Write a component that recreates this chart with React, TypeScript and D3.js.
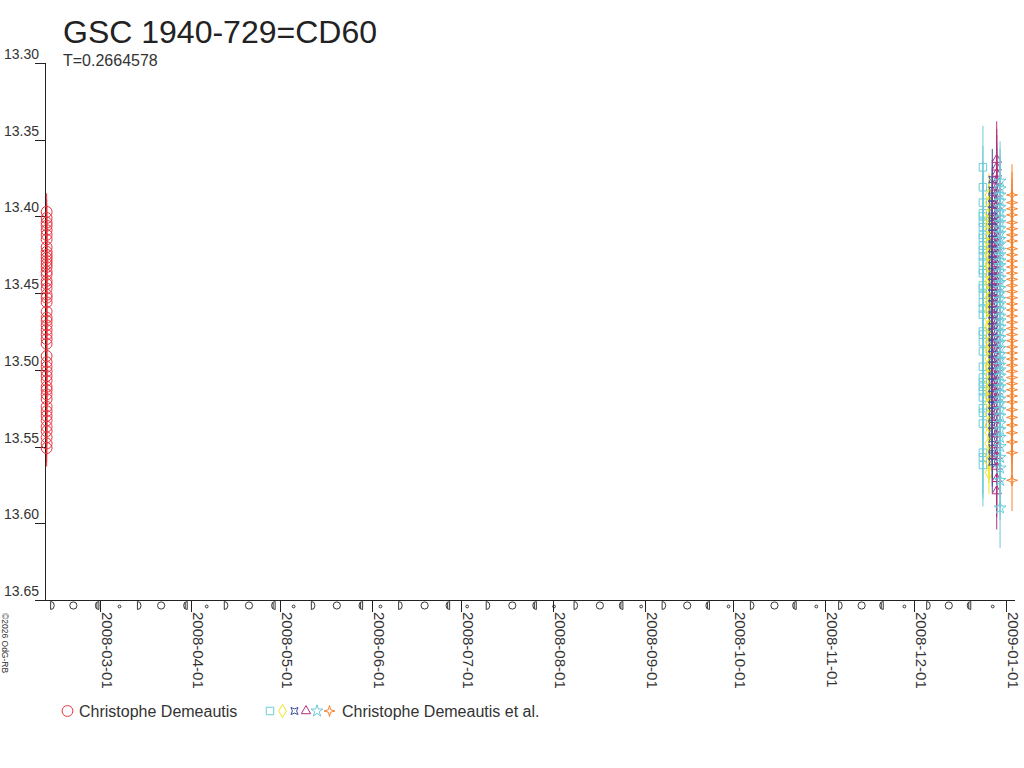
import React from "react";
import * as d3 from "d3";

const TITLE = "GSC 1940-729=CD60";
const SUBTITLE = "T=0.2664578";
const COPYRIGHT = "©2026 OdG-RB";

const Y_TICKS = [13.3, 13.35, 13.4, 13.45, 13.5, 13.55, 13.6, 13.65];
const X_TICKS = [
  "2008-03-01", "2008-04-01", "2008-05-01", "2008-06-01", "2008-07-01", "2008-08-01",
  "2008-09-01", "2008-10-01", "2008-11-01", "2008-12-01", "2009-01-01",
];

const NEW_MOONS = [
  "2008-02-07T03:44Z", "2008-03-07T17:14Z", "2008-04-06T03:55Z", "2008-05-05T12:18Z",
  "2008-06-03T19:23Z", "2008-07-03T02:19Z", "2008-08-01T10:13Z", "2008-08-30T19:58Z",
  "2008-09-29T08:12Z", "2008-10-28T23:14Z", "2008-11-27T16:55Z", "2008-12-27T12:22Z",
];
const FIRST_QUARTERS = [
  "2008-02-14T03:33Z", "2008-03-14T10:45Z", "2008-04-12T18:32Z", "2008-05-12T03:47Z",
  "2008-06-10T15:04Z", "2008-07-10T04:35Z", "2008-08-08T20:20Z", "2008-09-07T14:04Z",
  "2008-10-07T09:04Z", "2008-11-06T04:03Z", "2008-12-05T21:26Z", "2009-01-04T11:56Z",
];
const FULL_MOONS = [
  "2008-02-21T03:30Z", "2008-03-21T18:40Z", "2008-04-20T10:25Z", "2008-05-20T02:11Z",
  "2008-06-18T17:30Z", "2008-07-18T07:59Z", "2008-08-16T21:16Z", "2008-09-15T09:13Z",
  "2008-10-14T20:02Z", "2008-11-13T06:17Z", "2008-12-12T16:37Z",
];
const LAST_QUARTERS = [
  "2008-02-29T02:18Z", "2008-03-29T21:47Z", "2008-04-28T14:12Z", "2008-05-28T02:57Z",
  "2008-06-26T12:10Z", "2008-07-25T18:42Z", "2008-08-23T23:50Z", "2008-09-22T05:04Z",
  "2008-10-21T11:55Z", "2008-11-19T21:31Z", "2008-12-19T10:29Z",
];

const LEGEND_1 = "Christophe Demeautis";
const LEGEND_2 = "Christophe Demeautis et al.";

// Series 1: Christophe Demeautis
const RED_DATE = "2008-02-12T03:00Z";
const RED_ERR = 0.012;
const RED_MAGS = [
  13.397, 13.401, 13.404, 13.406, 13.409, 13.412, 13.415, 13.420, 13.423, 13.425, 13.427,
  13.429, 13.431, 13.433, 13.436, 13.438, 13.442, 13.444, 13.447, 13.451, 13.453, 13.456,
  13.462, 13.466, 13.468, 13.471, 13.474, 13.477, 13.480, 13.483, 13.491, 13.495, 13.498,
  13.501, 13.504, 13.507, 13.511, 13.513, 13.516, 13.519, 13.524, 13.527, 13.530, 13.533,
  13.537, 13.540, 13.544, 13.548, 13.551,
];

// Series 2..: Christophe Demeautis et al.
const SQ_DATE = "2008-12-24T05:00Z";
const SQ_ERR = 0.027;
const SQ_MAGS = [
  13.368, 13.381, 13.391, 13.398, 13.400, 13.404, 13.407, 13.412, 13.414, 13.419, 13.422,
  13.426, 13.430, 13.435, 13.437, 13.445, 13.447, 13.451, 13.456, 13.460, 13.464, 13.475,
  13.477, 13.482, 13.488, 13.498, 13.505, 13.508, 13.511, 13.514, 13.518, 13.525, 13.528,
  13.535, 13.554, 13.557, 13.562,
];

const DIA_DATE = "2008-12-26T06:00Z";
const DIA_ERR = 0.014;
const DIA_MAGS = [
  13.386, 13.391, 13.398, 13.402, 13.405, 13.408, 13.413, 13.417, 13.420, 13.424, 13.426,
  13.431, 13.433, 13.438, 13.442, 13.444, 13.449, 13.453, 13.456, 13.460, 13.462, 13.467,
  13.471, 13.473, 13.478, 13.482, 13.486, 13.488, 13.493, 13.497, 13.499, 13.503, 13.508,
  13.512, 13.514, 13.518, 13.522, 13.529, 13.536, 13.541, 13.548, 13.555, 13.560, 13.567,
];

const BLUE_DATE = "2008-12-27T09:00Z";
const BLUE_ERR = 0.02;
const BLUE_MAGS = [
  13.376, 13.383, 13.388, 13.392, 13.396, 13.401, 13.403, 13.407, 13.411, 13.415, 13.418,
  13.421, 13.425, 13.428, 13.432, 13.436, 13.439, 13.443, 13.446, 13.450, 13.453, 13.457,
  13.461, 13.464, 13.468, 13.472, 13.475, 13.479, 13.482, 13.486, 13.490, 13.493, 13.497,
  13.501, 13.504, 13.508, 13.512, 13.516, 13.519, 13.523, 13.527, 13.531, 13.536, 13.540,
  13.545, 13.551, 13.556, 13.560,
];

const TRI_DATE = "2008-12-28T21:00Z";
const TRI_ERR = 0.025;
const TRI_MAGS = [
  13.363, 13.368, 13.372, 13.377, 13.381, 13.385, 13.390, 13.393, 13.398, 13.402, 13.405,
  13.409, 13.413, 13.417, 13.420, 13.424, 13.428, 13.431, 13.435, 13.439, 13.442, 13.446,
  13.450, 13.454, 13.457, 13.461, 13.465, 13.469, 13.472, 13.476, 13.480, 13.484, 13.487,
  13.491, 13.495, 13.499, 13.503, 13.507, 13.511, 13.514, 13.518, 13.522, 13.527, 13.531,
  13.536, 13.542, 13.549, 13.556, 13.563, 13.571, 13.579,
];

const STAR_DATE = "2008-12-30T00:00Z";
const STAR_ERR = 0.026;
const STAR_MAGS = [
  13.377, 13.382, 13.386, 13.390, 13.394, 13.397, 13.401, 13.404, 13.408, 13.411, 13.415,
  13.418, 13.422, 13.425, 13.429, 13.432, 13.436, 13.440, 13.443, 13.447, 13.450, 13.454,
  13.457, 13.461, 13.465, 13.468, 13.472, 13.475, 13.479, 13.482, 13.486, 13.490, 13.493,
  13.497, 13.500, 13.504, 13.508, 13.511, 13.515, 13.519, 13.522, 13.526, 13.530, 13.535,
  13.539, 13.544, 13.550, 13.557, 13.564, 13.572, 13.590,
];

const ORA_DATE = "2009-01-03T01:00Z";
const ORA_ERR = 0.02;
const ORA_MAGS = [
  13.386, 13.391, 13.395, 13.399, 13.404, 13.408, 13.412, 13.416, 13.421, 13.425, 13.429,
  13.433, 13.437, 13.441, 13.445, 13.449, 13.453, 13.457, 13.461, 13.465, 13.469, 13.473,
  13.477, 13.481, 13.485, 13.489, 13.493, 13.497, 13.501, 13.505, 13.509, 13.513, 13.517,
  13.521, 13.526, 13.531, 13.536, 13.541, 13.547, 13.554, 13.572,
];

const X_DOMAIN = ["2008-02-11T13:40Z", "2009-01-04T01:00Z"];
const Y_DOMAIN = [13.3, 13.65];

const FONT = "'Liberation Sans', Arial, Helvetica, sans-serif";

function star4(r: number, k: number, rot = 0): string {
  const pts: [number, number][] = [];
  for (let i = 0; i < 8; i++) {
    const a = (i * Math.PI) / 4 - Math.PI / 2 + rot;
    const rr = i % 2 === 0 ? r : k;
    pts.push([rr * Math.cos(a), rr * Math.sin(a)]);
  }
  return "M" + pts.map((p) => p[0].toFixed(2) + "," + p[1].toFixed(2)).join("L") + "Z";
}

const SHAPES: Record<string, string> = {
  circle: d3.symbol(d3.symbolCircle, 92)() as string,
  square: d3.symbol(d3.symbolSquare, 56)() as string,
  diamond: d3.symbol(d3.symbolDiamond, 50)() as string,
  blueStar: star4(5, 2.1, Math.PI / 4),
  triangle: d3.symbol(d3.symbolTriangle, 38)() as string,
  star: d3.symbol(d3.symbolStar, 44)() as string,
  oraStar: star4(5.5, 1.7, 0),
};

const SERIES = [
  { date: RED_DATE, mags: RED_MAGS, err: RED_ERR, color: "#e8333c", shape: "circle" },
  { date: SQ_DATE, mags: SQ_MAGS, err: SQ_ERR, color: "#6ccbd9", shape: "square" },
  { date: DIA_DATE, mags: DIA_MAGS, err: DIA_ERR, color: "#f4e41c", shape: "diamond" },
  { date: BLUE_DATE, mags: BLUE_MAGS, err: BLUE_ERR, color: "#3d4fa3", shape: "blueStar" },
  { date: TRI_DATE, mags: TRI_MAGS, err: TRI_ERR, color: "#b3307f", shape: "triangle" },
  { date: STAR_DATE, mags: STAR_MAGS, err: STAR_ERR, color: "#6ccbd9", shape: "star" },
  { date: ORA_DATE, mags: ORA_MAGS, err: ORA_ERR, color: "#f5832e", shape: "oraStar" },
];

export default function App() {
  const x = d3
    .scaleUtc()
    .domain(X_DOMAIN.map((d) => new Date(d)))
    .range([45, 1015]);
  const y = d3.scaleLinear().domain(Y_DOMAIN).range([63, 600]);
  const [x0, x1] = x.range();
  const [y0, y1] = y.range();
  const inDomain = (d: Date) => d >= x.domain()[0] && d <= x.domain()[1];
  const gy = 605.5;

  return (
    <svg
      width={1024}
      height={768}
      style={{ position: "absolute", left: 0, top: 0, background: "#fff" }}
      fontFamily={FONT}
    >
      <rect width={1024} height={768} fill="#fff" />
      <text x={63} y={43} fontSize={32} fill="#222">{TITLE}</text>
      <text x={63} y={66} fontSize={16} fill="#333">{SUBTITLE}</text>

      {/* axes */}
      <line x1={x0 + 0.5} y1={y0} x2={x0 + 0.5} y2={y1} stroke="#222" />
      <line x1={35} y1={y1 + 0.5} x2={x1} y2={y1 + 0.5} stroke="#222" />
      {Y_TICKS.map((t) => (
        <g key={t}>
          <line x1={35} x2={x0} y1={Math.round(y(t)) + 0.5} y2={Math.round(y(t)) + 0.5} stroke="#222" />
          <text x={39} y={y(t) - 4} fontSize={14} textAnchor="end" fill="#333">
            {t.toFixed(2)}
          </text>
        </g>
      ))}
      {X_TICKS.map((t) => {
        const xx = Math.round(x(new Date(t + "T00:00Z"))) + 0.5;
        return (
          <g key={t}>
            <line x1={xx} x2={xx} y1={y1} y2={612} stroke="#222" />
            <text
              transform={`translate(${xx + 1},612) rotate(90)`}
              fontSize={15}
              fill="#333"
            >
              {t}
            </text>
          </g>
        );
      })}

      {/* moon phases */}
      <g fill="none" stroke="#222" strokeWidth={0.9}>
        {NEW_MOONS.map((d) => new Date(d)).filter(inDomain).map((d, i) => (
          <circle key={"n" + i} cx={x(d)} cy={gy + 1} r={1.4} />
        ))}
        {FULL_MOONS.map((d) => new Date(d)).filter(inDomain).map((d, i) => (
          <circle key={"f" + i} cx={x(d)} cy={gy} r={3.6} />
        ))}
        {FIRST_QUARTERS.map((d) => new Date(d)).filter(inDomain).map((d, i) => (
          <path
            key={"q" + i}
            d={`M${x(d) - 2},${gy - 4}L${x(d) - 2},${gy + 4}A3.6,4 0 0 0 ${x(d) - 2},${gy - 4}Z`}
          />
        ))}
        {LAST_QUARTERS.map((d) => new Date(d)).filter(inDomain).map((d, i) => (
          <path
            key={"l" + i}
            d={`M${x(d) + 2},${gy - 4}L${x(d) + 2},${gy + 4}A3.6,4 0 0 1 ${x(d) + 2},${gy - 4}Z M${x(d)},${gy - 3}L${x(d)},${gy + 3}`}
          />
        ))}
      </g>

      {/* data */}
      {SERIES.map((s, si) => {
        const cx = x(new Date(s.date));
        return (
          <g key={si} stroke={s.color} fill="none" strokeWidth={1}>
            {s.mags.map((m, i) => (
              <line key={"e" + i} x1={cx} x2={cx} y1={y(m - s.err)} y2={y(m + s.err)} />
            ))}
            {s.mags.map((m, i) => (
              <path key={"p" + i} d={SHAPES[s.shape]} transform={`translate(${cx},${y(m)})`} />
            ))}
          </g>
        );
      })}

      {/* legend */}
      <path d={SHAPES.circle} transform="translate(67.5,711)" stroke="#e8333c" fill="none" />
      <text x={79} y={716.5} fontSize={16} fill="#333">{LEGEND_1}</text>
      {SERIES.slice(1).map((s, i) => (
        <path
          key={i}
          d={SHAPES[s.shape]}
          transform={`translate(${[270, 282.5, 294.5, 306, 317, 329.5][i]},711)`}
          stroke={s.color}
          fill="none"
        />
      ))}
      <text x={342} y={716.5} fontSize={16} fill="#333">{LEGEND_2}</text>

      <text transform="translate(2,613) rotate(90)" fontSize={8.5} fill="#333">
        {COPYRIGHT}
      </text>
    </svg>
  );
}
